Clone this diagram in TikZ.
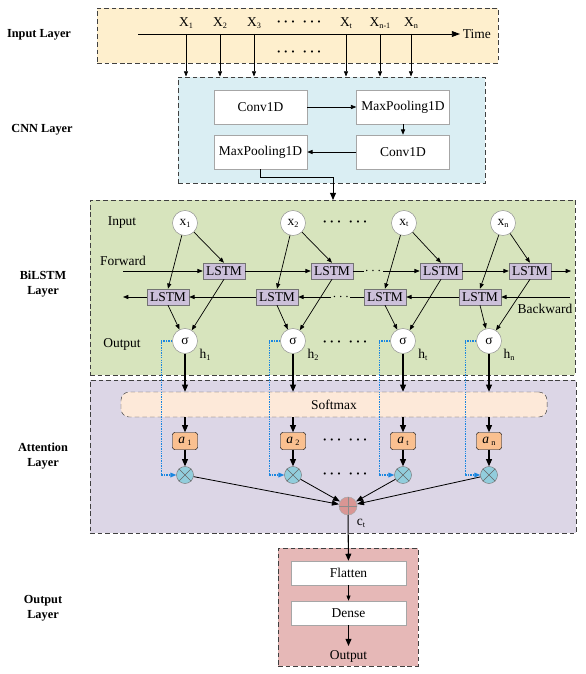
\documentclass[tikz,border=0pt]{standalone}
\usepackage{fontspec}
\setmainfont{Liberation Serif}
\usepackage{tikz}
\usetikzlibrary{arrows.meta,positioning,calc}
\definecolor{inputfill}{HTML}{FEEFCD}
\definecolor{cnnfill}{HTML}{DAEEF3}
\definecolor{bilstmfill}{HTML}{D7E4BD}
\definecolor{attfill}{HTML}{DCD6E6}
\definecolor{softfill}{HTML}{FDE9D9}
\definecolor{lstmfill}{HTML}{CCC0DA}
\definecolor{afill}{HTML}{FAC090}
\definecolor{mulfill}{HTML}{92CDDC}
\definecolor{sumfill}{HTML}{D99694}
\definecolor{outfill}{HTML}{E6B8B7}
\definecolor{dotblue}{HTML}{1A86E0}
\newcommand{\idx}[1]{\raisebox{-0.3ex}{\fontsize{7}{7}\selectfont #1}}
\newcommand{\dotgap}{\mbox{\boldmath$\cdots\;\cdots$}}

\begin{document}
\begin{tikzpicture}[x=0.03cm,y=-0.03cm,
  font=\fontsize{11.5}{13}\selectfont,
  layerbox/.style={draw=black!75,dash pattern=on 4pt off 2.5pt,line width=0.8pt,inner sep=0pt},
  layerlabel/.style={font=\fontsize{10.5}{12.5}\selectfont\bfseries,align=center},
  cnnbox/.style={draw=black!35,fill=white,minimum width=2.79cm,minimum height=1.02cm},
  lstmbox/.style={draw=black!55,fill=lstmfill,minimum width=1.26cm,minimum height=0.48cm,inner sep=1pt},
  inode/.style={circle,draw=black!45,fill=white,minimum size=0.75cm,inner sep=0pt},
  abox/.style={draw,fill=afill,rounded corners=2pt,minimum width=0.75cm,minimum height=0.51cm,inner sep=0pt},
  mulnode/.style={circle,draw=black!55,fill=mulfill,minimum size=0.51cm,inner sep=0pt},
  sumnode/.style={circle,draw=black!35,fill=sumfill,minimum size=0.54cm,inner sep=0pt},
  arr/.style={-{Triangle[length=4.5pt,width=3.5pt]},line width=0.6pt},
  bigarr/.style={-{Triangle[length=6pt,width=5pt]},line width=0.9pt},
  sumarr/.style={-{Triangle[length=6pt,width=4.5pt]},line width=0.7pt},
  dotarr/.style={-{Triangle[length=5pt,width=4pt]},dash pattern=on 1.2pt off 0.9pt,line width=0.9pt,draw=dotblue},
]
  \useasboundingbox (0,0) rectangle (585,674);

  %% Layer backgrounds
  \node[layerbox,fill=inputfill,minimum width=12.03cm,minimum height=1.65cm] (inl) at (297.5,35.5) {};
  \node[layerbox,fill=cnnfill,minimum width=9.21cm,minimum height=3.18cm] (cnn) at (331.5,130) {};
  \node[layerbox,fill=bilstmfill,minimum width=14.55cm,minimum height=5.25cm] (bil) at (332.5,287.5) {};
  \node[layerbox,fill=attfill,minimum width=14.58cm,minimum height=4.59cm] (att) at (333,456.5) {};
  \node[layerbox,fill=outfill,minimum width=4.2cm,minimum height=3.54cm] (outl) at (348,607) {};

  %% Layer names
  \node[layerlabel] (lin) at (39,35) {Input Layer};
  \node[layerlabel] (lcnn) at (42,130) {CNN Layer};
  \node[layerlabel] (lbil) at (43,284) {BiLSTM\\Layer};
  \node[layerlabel] (latt) at (43,456) {Attention\\Layer};
  \node[layerlabel] (lout) at (43,608) {Output\\Layer};

  %% Input layer
  \coordinate (axisL) at (138,34);
  \coordinate (axisR) at (460,34);
  \draw[-{Triangle[length=7pt,width=5pt]},line width=0.8pt] (axisL) -- (axisR) node[right,inner sep=2pt] (time) {Time};
  \foreach \n/\x/\lb in {1/186/1, 2/220/2, 3/254/3, t/346/t, m/380/n-1, n/411/n} {
    \node (X\n) at (\x,23) {X\idx{\lb}};
    \draw[arr] (X\n |- axisL) -- (X\n |- cnn.north);
  }
  \node (idots1) at (299,22) {\dotgap};
  \node (idots2) at (299,52) {\dotgap};

  %% CNN layer
  \node[cnnbox] (c1) at (260.5,107) {Conv1D};
  \node[cnnbox] (m1) at (403,107) {MaxPooling1D};
  \node[cnnbox] (c2) at (403,152) {Conv1D};
  \node[cnnbox] (m2) at (260.5,152) {MaxPooling1D};
  \draw[arr] (c1) -- (m1);
  \draw[arr] (m1) -- (c2);
  \draw[arr] (c2) -- (m2);
  \coordinate (bitop) at (333,200);
  \draw[-{Triangle[length=6pt,width=5pt]},line width=0.8pt] (m2.south) -- ++(0,8) -| (bitop);

  %% BiLSTM layer
  \node (tin) at (122,223) {Input};
  \node (tfw) at (123,261) {Forward};
  \node (tout) at (122,344) {Output};
  \node (tbw) at (545,309) {Backward};
  \coordinate (fin) at (123,271);
  \coordinate (fout) at (571,271);
  \coordinate (bin) at (570,297);
  \coordinate (bout) at (123,297);
  \foreach \i/\xc/\fx/\bx/\sx/\lb in {1/185/224/168/185/1, 2/293/332/277/293/2, t/404/441/385/403/t, n/503/530/480/489/n} {
    \node[inode] (x\i) at (\xc,223) {x\idx{\lb}};
    \node[lstmbox] (f\i) at (\fx,271) {LSTM};
    \node[lstmbox] (b\i) at (\bx,297) {LSTM};
    \node[inode] (s\i) at (\sx,341) {σ};
    \node (h\i) at ({\sx+20},355) {h\idx{\lb}};
    \draw[arr] (x\i) -- (f\i.north);
    \draw[arr] (x\i) -- (b\i.north);
    \draw[arr] (f\i.south) -- (s\i);
    \draw[arr] (b\i.south) -- (s\i);
  }
  \node (bdots1) at (345,222) {\dotgap};
  \node (bdots2) at (345,342) {\dotgap};
  %% forward chain
  \draw[arr] (fin) -- (f1);
  \draw[arr] (f1) -- (f2);
  \draw[arr] (f2) -- node[pos=0.3,fill=bilstmfill,inner sep=1pt] {$\cdots$} (ft);
  \draw[arr] (ft) -- (fn);
  \draw[arr] (fn) -- (fout);
  %% backward chain
  \draw[arr] (bin) -- (bn);
  \draw[arr] (bn) -- (bt);
  \draw[arr] (bt) -- node[pos=0.35,fill=bilstmfill,inner sep=1pt] {$\cdots$} (b2);
  \draw[arr] (b2) -- (b1);
  \draw[arr] (b1) -- (bout);

  %% Attention layer
  \node[draw=black!75,dash pattern=on 4pt off 2.5pt,fill=softfill,rounded corners=7pt,
        minimum width=12.78cm,minimum height=0.75cm] (soft) at (334,404.5) {Softmax};
  \node[sumnode] (sum) at (348,506) {};
  \draw[black!45] (sum.north) -- (sum.south) (sum.east) -- (sum.west);
  \node (ct) at (361,523) {c\idx{t}};
  \foreach \i/\sx/\lb in {1/185/1, 2/293/2, t/403/t, n/489/n} {
    \node[abox] (a\i) at (\sx,441) {\textit{a}\,\idx{\lb}};
    \node[mulnode] (o\i) at (\sx,475) {};
    \draw[black!60] (o\i.45) -- (o\i.225) (o\i.135) -- (o\i.315);
    \draw[bigarr] (s\i) -- (s\i |- soft.north);
    \draw[bigarr] (s\i |- soft.south) -- (a\i);
    \draw[bigarr] (a\i) -- (o\i);
    \draw[dotarr] (s\i.west) -| ([xshift=-0.45cm]o\i.west) -- (o\i.west);
    \draw[sumarr] (o\i) -- (sum);
  }
  \node (adots1) at (345,440) {\dotgap};
  \node (adots2) at (345,474) {\dotgap};

  %% Output layer
  \node[cnnbox,minimum width=3.45cm,minimum height=0.72cm] (fl) at (348.5,573) {Flatten};
  \node[cnnbox,minimum width=3.45cm,minimum height=0.72cm] (de) at (348.5,613) {Dense};
  \node (res) at (348.5,656) {Output};
  \draw[bigarr] (sum) -- (fl);
  \draw[arr] (fl) -- (de);
  \draw[bigarr] (de) -- (res);
\end{tikzpicture}
\end{document}
